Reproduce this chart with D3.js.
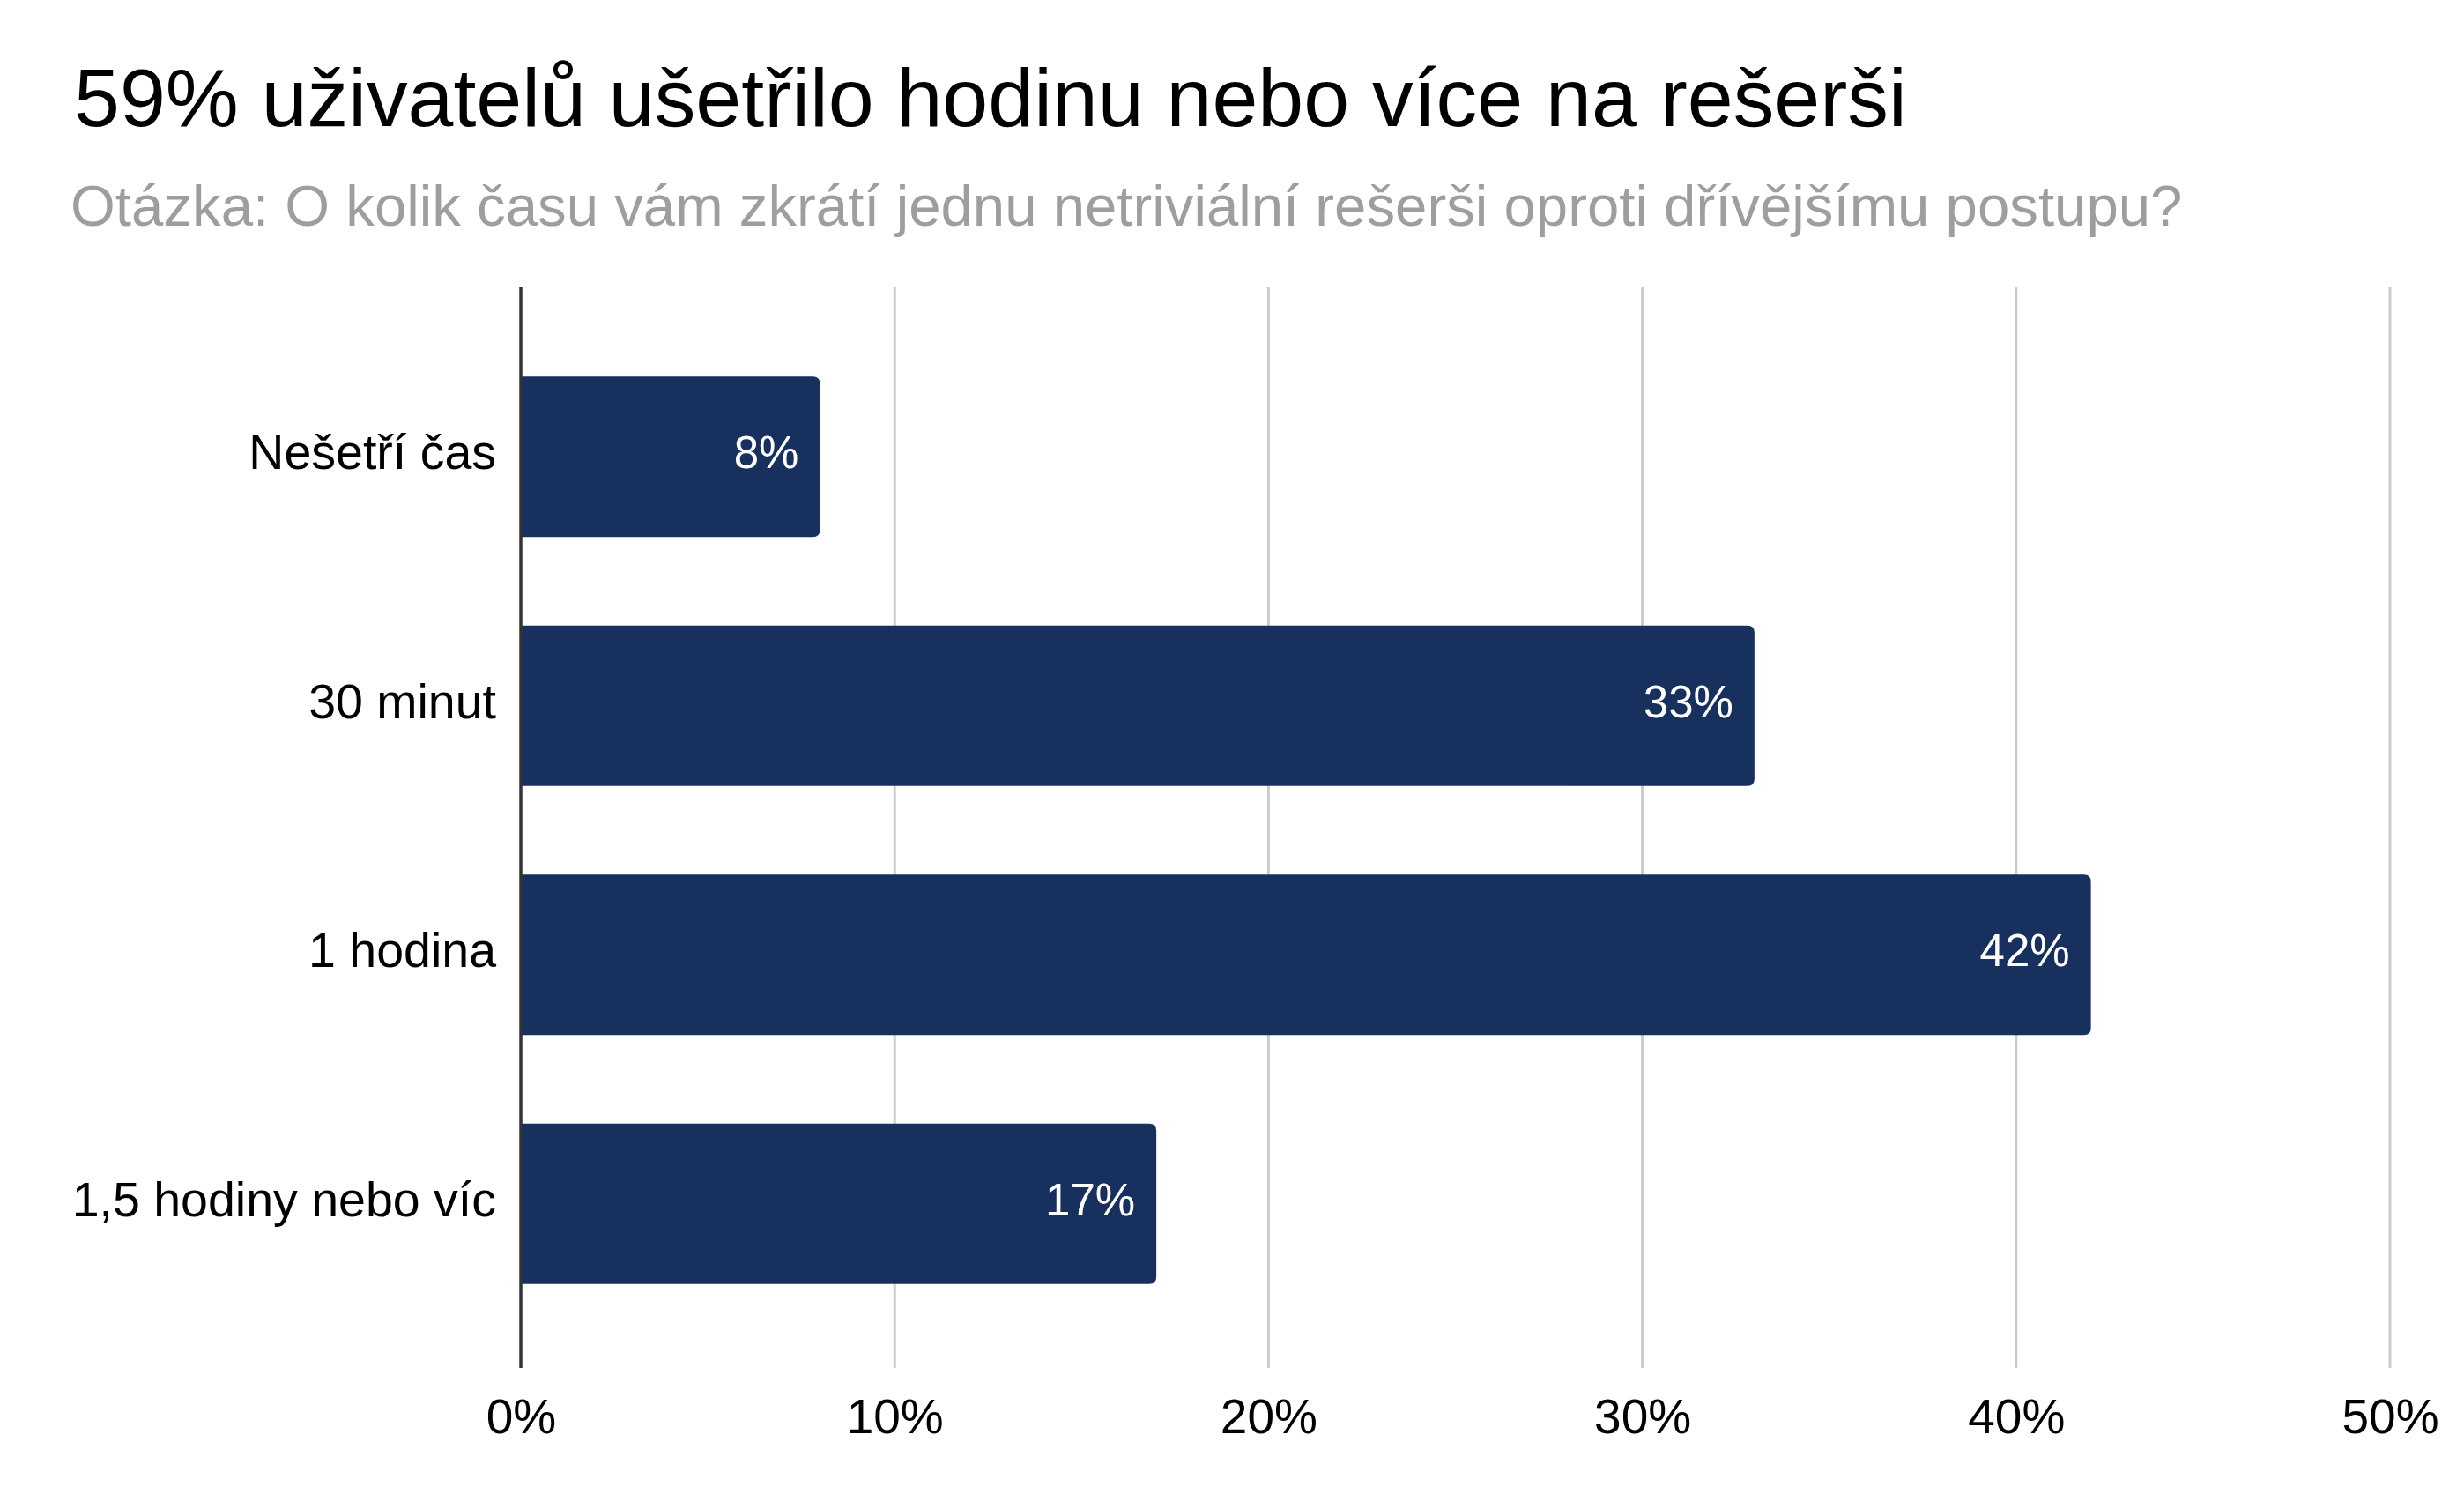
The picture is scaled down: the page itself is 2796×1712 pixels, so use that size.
<!DOCTYPE html>
<html>
<head>
<meta charset="utf-8">
<script src="https://cdn.jsdelivr.net/npm/d3@7"></script>
<style>
  html, body { margin: 0; padding: 0; background: #ffffff; }
  svg { display: block; }
  text { font-family: "Liberation Sans", Arial, Helvetica, sans-serif; }
</style>
</head>
<body>
<svg id="chart" width="2796" height="1712"></svg>
<script>
// ---- data ----
const titleText = "59% uživatelů ušetřilo hodinu nebo více na rešerši";
const subtitleText = "Otázka: O kolik času vám zkrátí jednu netriviální rešerši oproti dřívějšímu postupu?";
const categories = ["Nešetří čas", "30 minut", "1 hodina", "1,5 hodiny nebo víc"];
const values = [0.08, 0.33, 0.42, 0.17];
const valueLabels = ["8%", "33%", "42%", "17%"];
const xTicks = [0, 0.1, 0.2, 0.3, 0.4, 0.5];
const xTickLabels = ["0%", "10%", "20%", "30%", "40%", "50%"];

// ---- layout ----
const W = 2796, H = 1712;
const plot = { left: 591, right: 2712, top: 326, bottom: 1552 };
const barColor = "#17305e";

const svg = d3.select("#chart");
svg.append("rect").attr("width", W).attr("height", H).attr("fill", "#fff");

// title + subtitle, fitted to their widths in the reference
function fitText(sel, targetWidth) {
  sel.attr("font-size", 100);
  const w = sel.node().getComputedTextLength();
  sel.attr("font-size", 100 * targetWidth / w);
}
const title = svg.append("text")
  .attr("x", 84).attr("y", 143)
  .attr("fill", "#000")
  .text(titleText);
fitText(title, 2080);

const subtitle = svg.append("text")
  .attr("x", 80).attr("y", 256)
  .attr("fill", "#9e9e9e")
  .text(subtitleText);
fitText(subtitle, 2397);

// scales
const x = d3.scaleLinear().domain([0, 0.5]).range([plot.left, plot.right]);
const y = d3.scaleBand().domain(categories)
  .range([plot.top + 3, plot.bottom + 3])
  .paddingInner(0.356).paddingOuter(0.348);

// gridlines
svg.append("g").selectAll("line")
  .data(xTicks.filter(d => d > 0))
  .join("line")
  .attr("x1", d => x(d)).attr("x2", d => x(d))
  .attr("y1", plot.top).attr("y2", plot.bottom)
  .attr("stroke", "#cccccc").attr("stroke-width", 3);

// bars with rounded right corners
const r = 8;
function barPath(x0, x1, y0, h) {
  const rr = Math.min(r, (x1 - x0) / 2);
  return `M${x0},${y0}H${x1 - rr}Q${x1},${y0} ${x1},${y0 + rr}V${y0 + h - rr}Q${x1},${y0 + h} ${x1 - rr},${y0 + h}H${x0}Z`;
}
svg.append("g").selectAll("path")
  .data(categories)
  .join("path")
  .attr("d", (c, i) => barPath(x(0), x(values[i]), y(c), y.bandwidth()))
  .attr("fill", barColor);

// zero axis line
svg.append("line")
  .attr("x1", x(0)).attr("x2", x(0))
  .attr("y1", plot.top).attr("y2", plot.bottom)
  .attr("stroke", "#333333").attr("stroke-width", 3.5);

// value labels
svg.append("g").selectAll("text")
  .data(categories)
  .join("text")
  .attr("x", (c, i) => x(values[i]) - 24)
  .attr("y", c => y(c) + y.bandwidth() / 2 + 13)
  .attr("text-anchor", "end")
  .attr("fill", "#ffffff")
  .attr("font-size", 51)
  .text((c, i) => valueLabels[i]);

// category labels (y axis)
const yAxis = d3.axisLeft(y).tickSize(0).tickPadding(28);
const gy = svg.append("g").attr("transform", `translate(${x(0)},0)`).call(yAxis);
gy.select(".domain").remove();
gy.selectAll("text")
  .attr("font-size", 55.5)
  .attr("fill", "#000")
  .attr("font-family", "Liberation Sans, Arial, sans-serif")
  .attr("dy", null)
  .attr("y", 14);

// x axis tick labels
const xAxis = d3.axisBottom(x).tickValues(xTicks)
  .tickFormat((d, i) => xTickLabels[i]).tickSize(0).tickPadding(0);
const gx = svg.append("g").attr("transform", `translate(0,${plot.bottom})`).call(xAxis);
gx.select(".domain").remove();
gx.selectAll("text")
  .attr("font-size", 55)
  .attr("fill", "#000")
  .attr("font-family", "Liberation Sans, Arial, sans-serif")
  .attr("dy", null)
  .attr("y", 74);
</script>
</body>
</html>
